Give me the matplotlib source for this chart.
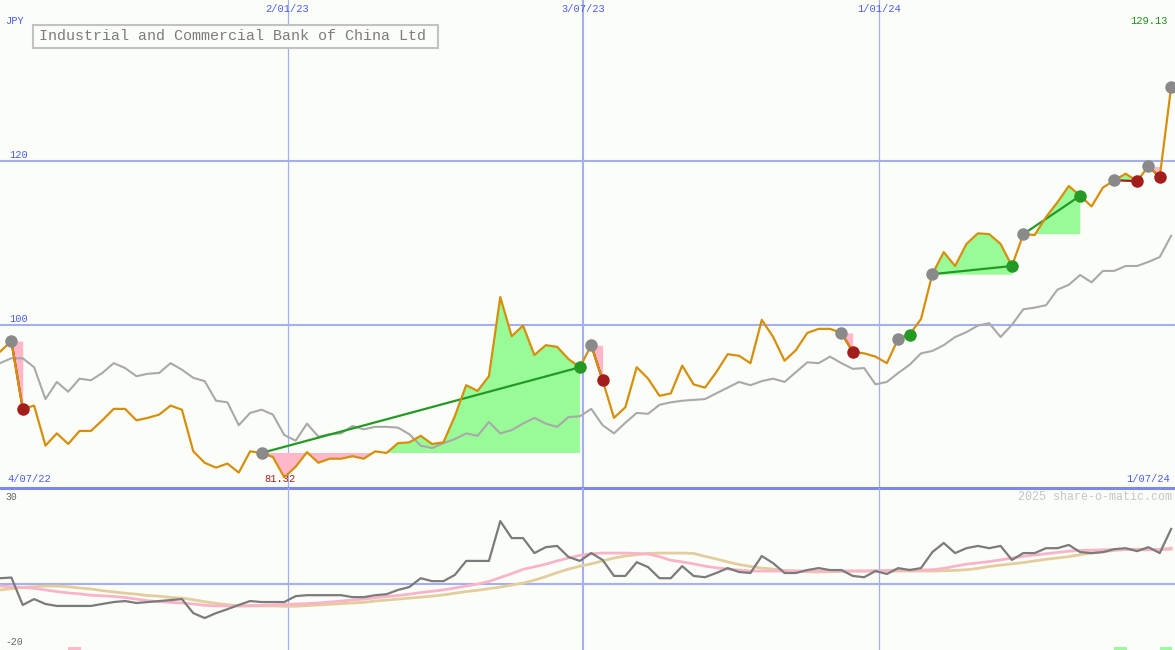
import numpy as np
import pandas as pd
import matplotlib
matplotlib.use('Agg')
import matplotlib.pyplot as plt
import matplotlib.dates as mdates
from matplotlib.patches import Rectangle

plt.rcParams['font.family'] = ['Liberation Mono', 'DejaVu Sans Mono']

# weekly close, JPY
price = [96.7, 98.0, 89.7, 90.1, 85.2, 86.7, 85.4, 87.0, 87.0, 88.3,
         89.7, 89.7, 88.3, 88.6, 89.0, 90.1, 89.6, 84.5, 83.1, 82.5,
         83.0, 81.9, 84.5, 84.3, 83.8, 81.32, 82.6, 84.4, 83.1, 83.6,
         83.6, 83.9, 83.6, 84.5, 84.3, 85.5, 85.6, 86.4, 85.4, 85.6,
         88.8, 92.6, 91.9, 93.7, 103.4, 98.6, 99.9, 96.3, 97.5, 97.3,
         95.8, 94.8, 97.5, 93.2, 88.6, 89.9, 94.8, 93.4, 91.3, 91.6,
         95.0, 92.7, 92.3, 94.2, 96.4, 96.2, 95.3, 100.6, 98.5, 95.6,
         96.9, 99.0, 99.5, 99.5, 99.0, 96.7, 96.5, 96.1, 95.3, 98.3,
         98.8, 100.7, 106.2, 108.9, 107.2, 109.9, 111.2, 111.1, 109.9, 107.2,
         111.1, 111.0, 113.2, 115.0, 117.0, 115.8, 114.5, 116.8, 117.7, 118.5,
         117.6, 119.4, 118.1, 129.13]

# market index, rebased to the share price
index_line = [95.3, 95.9, 95.9, 94.8, 90.9, 93.0, 91.8, 93.4, 93.2, 94.1,
              95.3, 94.7, 93.7, 94.0, 94.1, 95.3, 94.5, 93.5, 93.1, 90.7,
              90.5, 87.7, 89.2, 89.6, 89.0, 86.5, 85.8, 87.9, 86.3, 86.6,
              86.7, 87.6, 87.2, 87.5, 87.5, 87.4, 86.6, 85.2, 84.9, 85.5,
              86.0, 86.7, 86.4, 88.1, 86.7, 87.1, 87.9, 88.6, 87.9, 87.5,
              88.7, 88.8, 89.7, 87.7, 86.7, 88.0, 89.2, 89.1, 90.2, 90.5,
              90.7, 90.8, 90.9, 91.6, 92.3, 93.0, 92.6, 93.1, 93.4, 93.0,
              94.2, 95.4, 95.3, 96.1, 95.3, 94.6, 94.7, 92.7, 93.0, 94.1,
              95.1, 96.5, 96.8, 97.5, 98.5, 99.1, 99.9, 100.2, 98.5, 100.0,
              101.9, 102.1, 102.4, 104.3, 104.9, 106.1, 105.2, 106.6, 106.6, 107.2,
              107.2, 107.7, 108.3, 110.9]

# relative strength vs index (%) and its two averages
rel_strength = [1.8, 2.0, -6.4, -4.6, -6.1, -6.7, -6.7, -6.7, -6.7, -6.1,
                -5.5, -5.2, -5.8, -5.5, -5.2, -4.9, -4.6, -8.9, -10.4, -8.9,
                -7.7, -6.4, -5.2, -5.5, -5.5, -5.5, -3.7, -3.4, -3.4, -3.4,
                -3.4, -4.0, -4.0, -3.4, -3.1, -1.8, -0.9, 1.8, 0.9, 0.9,
                2.8, 7.1, 7.1, 7.1, 19.3, 14.1, 14.1, 9.5, 11.3, 11.7,
                8.3, 7.1, 9.5, 7.4, 2.5, 2.5, 6.7, 5.2, 1.8, 1.8,
                5.5, 2.5, 2.1, 3.4, 4.9, 3.7, 3.4, 8.6, 6.4, 3.4,
                3.4, 4.3, 4.9, 4.3, 4.3, 2.5, 2.1, 4.0, 3.1, 4.9,
                4.3, 4.9, 9.8, 12.6, 9.5, 11.0, 11.7, 11.0, 11.7, 7.4,
                9.5, 9.5, 11.0, 11.0, 12.0, 9.8, 9.5, 9.8, 10.7, 11.0,
                10.1, 11.3, 9.5, 16.9]
rs_fast = [-0.6, -0.8, -1.0, -1.3, -1.8, -2.3, -2.7, -3.0, -3.4, -3.6,
           -3.8, -4.1, -4.6, -5.1, -5.4, -5.6, -5.8, -6.1, -6.5, -6.7,
           -6.7, -6.7, -6.6, -6.5, -6.4, -6.3, -6.1, -6.0, -5.8, -5.5,
           -5.2, -4.9, -4.6, -4.2, -3.8, -3.5, -3.1, -2.6, -2.2, -1.8,
           -1.2, -0.6, 0.0, 0.8, 2.0, 3.2, 4.5, 5.3, 6.1, 7.1,
           8.0, 8.8, 9.3, 9.5, 9.5, 9.5, 9.4, 9.2, 8.4, 7.3,
           6.8, 6.2, 5.5, 5.0, 4.6, 4.3, 4.0, 4.0, 4.0, 4.0,
           4.0, 4.0, 4.0, 4.0, 4.0, 4.0, 4.0, 4.1, 4.2, 4.3,
           4.3, 4.3, 4.4, 4.8, 5.5, 6.1, 6.5, 6.9, 7.4, 8.0,
           8.5, 8.9, 9.3, 9.7, 10.1, 10.3, 10.4, 10.5, 10.6, 10.6,
           10.5, 10.5, 10.6, 11.0]
rs_slow = [-1.8, -1.4, -1.0, -0.8, -0.6, -0.6, -0.8, -1.2, -1.5, -2.0,
           -2.4, -2.8, -3.1, -3.5, -3.7, -4.1, -4.3, -4.8, -5.4, -5.9,
           -6.3, -6.7, -6.7, -6.7, -6.7, -6.8, -6.8, -6.6, -6.4, -6.2,
           -6.0, -5.8, -5.6, -5.2, -4.9, -4.6, -4.3, -4.0, -3.7, -3.3,
           -2.8, -2.3, -1.9, -1.4, -0.9, -0.3, 0.3, 1.2, 2.3, 3.5,
           4.6, 5.5, 6.2, 7.1, 8.0, 8.6, 9.0, 9.4, 9.5, 9.5,
           9.5, 9.4, 8.5, 7.7, 6.8, 6.0, 5.4, 4.9, 4.6, 4.2,
           4.0, 3.8, 3.7, 3.8, 3.9, 4.0, 4.0, 4.0, 4.0, 4.0,
           4.0, 4.0, 4.0, 4.1, 4.2, 4.4, 4.8, 5.4, 5.8, 6.2,
           6.6, 7.1, 7.6, 8.0, 8.4, 9.0, 9.5, 9.9, 10.3, 10.6,
           10.7, 10.6, 10.6, 10.7]

# trades as (entry week, exit week); last entry still open
trades = [(1, 2), (23, 51), (52, 53), (74, 75), (79, 80),
          (82, 89), (90, 95), (98, 100), (101, 102)]
open_entry = 103
pink_marks = [6]
green_marks = [98, 102]

date_lines = ['2023-01-02', '2023-07-03', '2024-01-01']
date_labels = ['2/01/23', '3/07/23', '1/01/24']
date_widths = [0.9, 1.5, 0.9]

BG = '#fbfdf9'
GRID = '#a4aff0'
BLUE_TXT = '#4d5ceb'
ORANGE = '#d68f0c'
GREY = '#a9a9a9'
GREEN_FILL = '#98fb98'
PINK_FILL = '#ffb7c9'
GREEN = '#249a24'
RED = '#a31d1d'

dates = pd.date_range('2022-07-09', periods=len(price), freq='7D')
x = mdates.date2num(dates)
p = np.array(price)

fig = plt.figure(figsize=(11.75, 6.5), dpi=100)
fig.patch.set_facecolor(BG)
ax = fig.add_axes([0, 162.5 / 650, 1, 487.5 / 650])
ax2 = fig.add_axes([0, 0, 1, 162.5 / 650])
for a in (ax, ax2):
    a.set_facecolor(BG)
    a.set_xlim(x[0], x[0] + 103.34 * 7)
    a.set_xticks([])
    a.set_yticks([])
    for s in a.spines.values():
        s.set_visible(False)
ax2.patch.set_visible(False)
ax.set_ylim(80.07, 139.78)
ax2.set_ylim(-20.2, 29.6)
ax.spines['bottom'].set_visible(True)
ax.spines['bottom'].set_color('#7b8ae9')
ax.spines['bottom'].set_linewidth(2.2)

# grid
for lvl in (100, 120):
    ax.axhline(lvl, color=GRID, lw=1.5, zorder=0.5)
    ax.annotate(str(lvl), xy=(0, lvl), xycoords=ax.get_yaxis_transform(),
                xytext=(9, 1), textcoords='offset pixels',
                color=BLUE_TXT, fontsize=7.5, va='bottom', ha='left')
ax2.axhline(0, color=GRID, lw=1.5, zorder=0.5)
for d, lab, w in zip(date_lines, date_labels, date_widths):
    xd = mdates.date2num(pd.Timestamp(d))
    ax.axvline(xd, color=GRID, lw=w, zorder=0.5)
    ax2.axvline(xd, color=GRID, lw=w, zorder=0.5)
    ax.text(xd, 1 - 9 / 487.5, lab, transform=ax.get_xaxis_transform(),
            color=BLUE_TXT, fontsize=7.5, ha='center', va='center')

# trades: fills, connecting lines, dots
entries, exits_win, exits_loss = [], [], []
for e, o in trades:
    xs = x[e:o + 1]
    ys = p[e:o + 1]
    base = p[e]
    ax.fill_between(xs, ys, base, where=ys >= base, interpolate=True,
                    color=GREEN_FILL, lw=0, zorder=1)
    ax.fill_between(xs, ys, base, where=ys <= base, interpolate=True,
                    color=PINK_FILL, lw=0, zorder=1)
    win = p[o] > base
    ax.plot([x[e], x[o]], [base, p[o]], color=GREEN if win else RED,
            lw=1.6, zorder=3)
    entries.append(e)
    (exits_win if win else exits_loss).append(o)
entries.append(open_entry)

ax.plot(x, index_line, color=GREY, lw=1.5, zorder=2)
ax.plot(x, p, color=ORANGE, lw=1.6, zorder=4)
ax.plot(x[entries], p[entries], 'o', color='#8a8a8a', ms=9, mew=0, zorder=5)
ax.plot(x[exits_win], p[exits_win], 'o', color=GREEN, ms=9, mew=0, zorder=6)
ax.plot(x[exits_loss], p[exits_loss], 'o', color=RED, ms=9, mew=0, zorder=6)

# min / max labels
imin = int(np.argmin(p))
ax.annotate(f'{p[imin]:.2f}', xy=(x[imin], 0), xycoords=ax.get_xaxis_transform(),
            xytext=(-4, 9), textcoords='offset pixels',
            color=RED, fontsize=7.5, ha='center', va='center')
imax = int(np.argmax(p))
fig.text(1168 / 1175, 1 - 21 / 650, f'{p[imax]:.2f}', color='#1f8f1f',
         fontsize=7.5, ha='right', va='center')

# lower panel
ax2.plot(x, rs_slow, color='#e3cd9d', lw=2, zorder=2)
ax2.plot(x, rs_fast, color='#f9b4c9', lw=2, zorder=2)
ax2.plot(x, rel_strength, color='#7b7b7b', lw=1.6, zorder=3)
ax2.bar(x[pink_marks], 0.9, bottom=-20.2, width=7.6, align='edge',
        color=PINK_FILL, zorder=1)
ax2.bar(x[green_marks], 0.9, bottom=-20.2, width=7.6, align='edge',
        color=GREEN_FILL, zorder=1)

# text in pixel positions
def fpx(px, py):
    return px / 1175, 1 - py / 650

fig.patches.append(Rectangle(fpx(33, 48), 405 / 1175, 23 / 650,
                             transform=fig.transFigure, fc=BG, ec='#c2c2c2',
                             lw=1.5, zorder=3))
fig.text(*fpx(39, 36.5), 'Industrial and Commercial Bank of China Ltd',
         color='#7d7d7d', fontsize=10.8, va='center', ha='left', zorder=4)
fig.text(*fpx(5, 21), 'JPY', color=BLUE_TXT, fontsize=7.5, va='center')
fig.text(*fpx(7, 479), '4/07/22', color=BLUE_TXT, fontsize=7.5, va='center')
fig.text(*fpx(1170, 479), '1/07/24', color=BLUE_TXT, fontsize=7.5,
         va='center', ha='right')
fig.text(*fpx(1172, 496.5), '2025 share-o-matic.com', color='#c6c6c6',
         fontsize=8.4, va='center', ha='right')
fig.text(*fpx(5, 496.5), '30', color='#666666', fontsize=7, va='center')
fig.text(*fpx(5, 642), '-20', color='#666666', fontsize=7, va='center')

fig.savefig('out.png', dpi=100, facecolor=BG)
